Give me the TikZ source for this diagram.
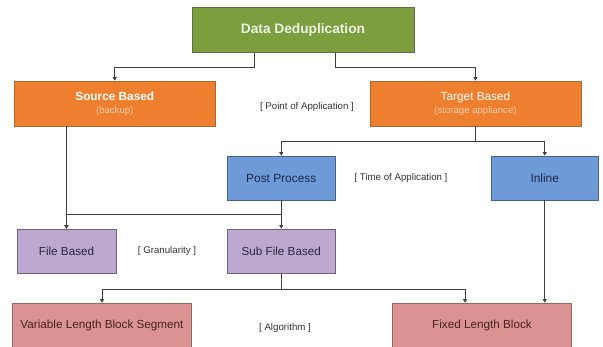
\documentclass[tikz,border=0pt]{standalone}
\usepackage{fontspec}
\setmainfont{Liberation Sans}
\usetikzlibrary{arrows.meta}

\definecolor{ddgreen}{RGB}{124,158,62}
\definecolor{ddgreenline}{RGB}{92,112,66}
\definecolor{ddtext}{RGB}{238,242,226}
\definecolor{pointorange}{RGB}{238,127,46}
\definecolor{pointline}{RGB}{176,100,48}
\definecolor{pointsub}{RGB}{250,205,170}
\definecolor{timeblue}{RGB}{110,155,216}
\definecolor{timeline}{RGB}{72,98,140}
\definecolor{timetext}{RGB}{28,40,70}
\definecolor{granpurple}{RGB}{187,169,207}
\definecolor{granline}{RGB}{108,98,124}
\definecolor{grantext}{RGB}{46,38,62}
\definecolor{algopink}{RGB}{218,147,146}
\definecolor{algoline}{RGB}{150,104,104}
\definecolor{algotext}{RGB}{72,34,34}
\definecolor{linkgray}{RGB}{62,62,62}

\newcommand{\subfont}{\fontsize{9.6}{11}\selectfont\color{pointsub}}

\begin{document}
\begin{tikzpicture}[x=1pt, y=-1pt,
    box/.style={draw, rectangle, line width=0.8pt, align=center, inner sep=0pt},
    rootbox/.style={box, fill=ddgreen, draw=ddgreenline, text=ddtext,
        font=\fontsize{13.7}{15}\selectfont\bfseries},
    pointbox/.style={box, fill=pointorange, draw=pointline, text=white,
        font=\fontsize{11.8}{13}\selectfont},
    timebox/.style={box, fill=timeblue, draw=timeline, text=timetext,
        font=\fontsize{11.9}{13}\selectfont},
    granbox/.style={box, fill=granpurple, draw=granline, text=grantext,
        font=\fontsize{11.7}{13}\selectfont},
    algobox/.style={box, fill=algopink, draw=algoline, text=algotext,
        font=\fontsize{11.7}{13}\selectfont},
    tag/.style={font=\fontsize{9.7}{11}\selectfont, text=black!80},
    link/.style={draw=linkgray, line width=0.75pt,
        -{Triangle[width=4pt,length=3.5pt]}}
]

\useasboundingbox (0,0) rectangle (603,346);
\clip (0,0) rectangle (603,346);

% ========== Root ==========
\node[rootbox, minimum width=222pt, minimum height=45pt] (dedup) at (303,30) {Data Deduplication};

% ========== Point of Application ==========
\node[pointbox, minimum width=201.5pt, minimum height=45pt] (source) at (114.75,103.5)
    {\bfseries Source Based\\[-0.5pt]{\subfont(backup)}};
\node[pointbox, minimum width=211pt, minimum height=45pt] (target) at (475.5,103.5)
    {Target Based\\[-0.5pt]{\subfont(storage appliance)}};
\node[tag] (pointtag) at (307,107) {[ Point of Application ]};

% ========== Time of Application ==========
\node[timebox, minimum width=107.5pt, minimum height=44pt] (post) at (281.25,178) {Post Process};
\node[timebox, minimum width=106.5pt, minimum height=44pt] (inline) at (544.75,178) {Inline};
\node[tag] (timetag) at (401,178) {[ Time of Application ]};

% ========== Granularity ==========
\node[granbox, minimum width=99pt, minimum height=44.5pt] (filebased) at (66.5,251.3) {File Based};
\node[granbox, minimum width=107.5pt, minimum height=44.5pt] (subfile) at (281.25,251.3) {Sub File Based};
\node[tag] (grantag) at (167,251) {[ Granularity ]};

% ========== Algorithm ==========
\node[algobox, minimum width=179pt, minimum height=44pt] (varblock) at (102,325) {Variable Length Block Segment};
\node[algobox, minimum width=179.5pt, minimum height=44pt] (fixblock) at (482,325) {Fixed Length Block};
\node[tag] (algotag) at (285,328) {[ Algorithm ]};

% connectors
\draw[link] ([xshift=-49pt]dedup.south) -- ++(0,14.7) -| (source.north);
\draw[link] ([xshift=32pt]dedup.south) -- ++(0,14.7) -| (target.north);
\draw[link] (target.south) -- ++(0,15) -| (post.north);
\draw[link] (target.south) -- ++(0,15) -| (inline.north);
\draw[link] (source.south -| filebased.north) -- (filebased.north);
\draw[link] (post.south) -- ++(0,14) -| (filebased.north);
\draw[link] (post.south) -- (subfile.north);
\draw[link] (subfile.south) -- ++(0,15) -| (varblock.north);
\draw[link] (subfile.south) -- ++(0,15) -| ([xshift=-17pt]fixblock.north);
\draw[link] (inline.south) -- (inline.south |- fixblock.north);

\end{tikzpicture}
\end{document}
